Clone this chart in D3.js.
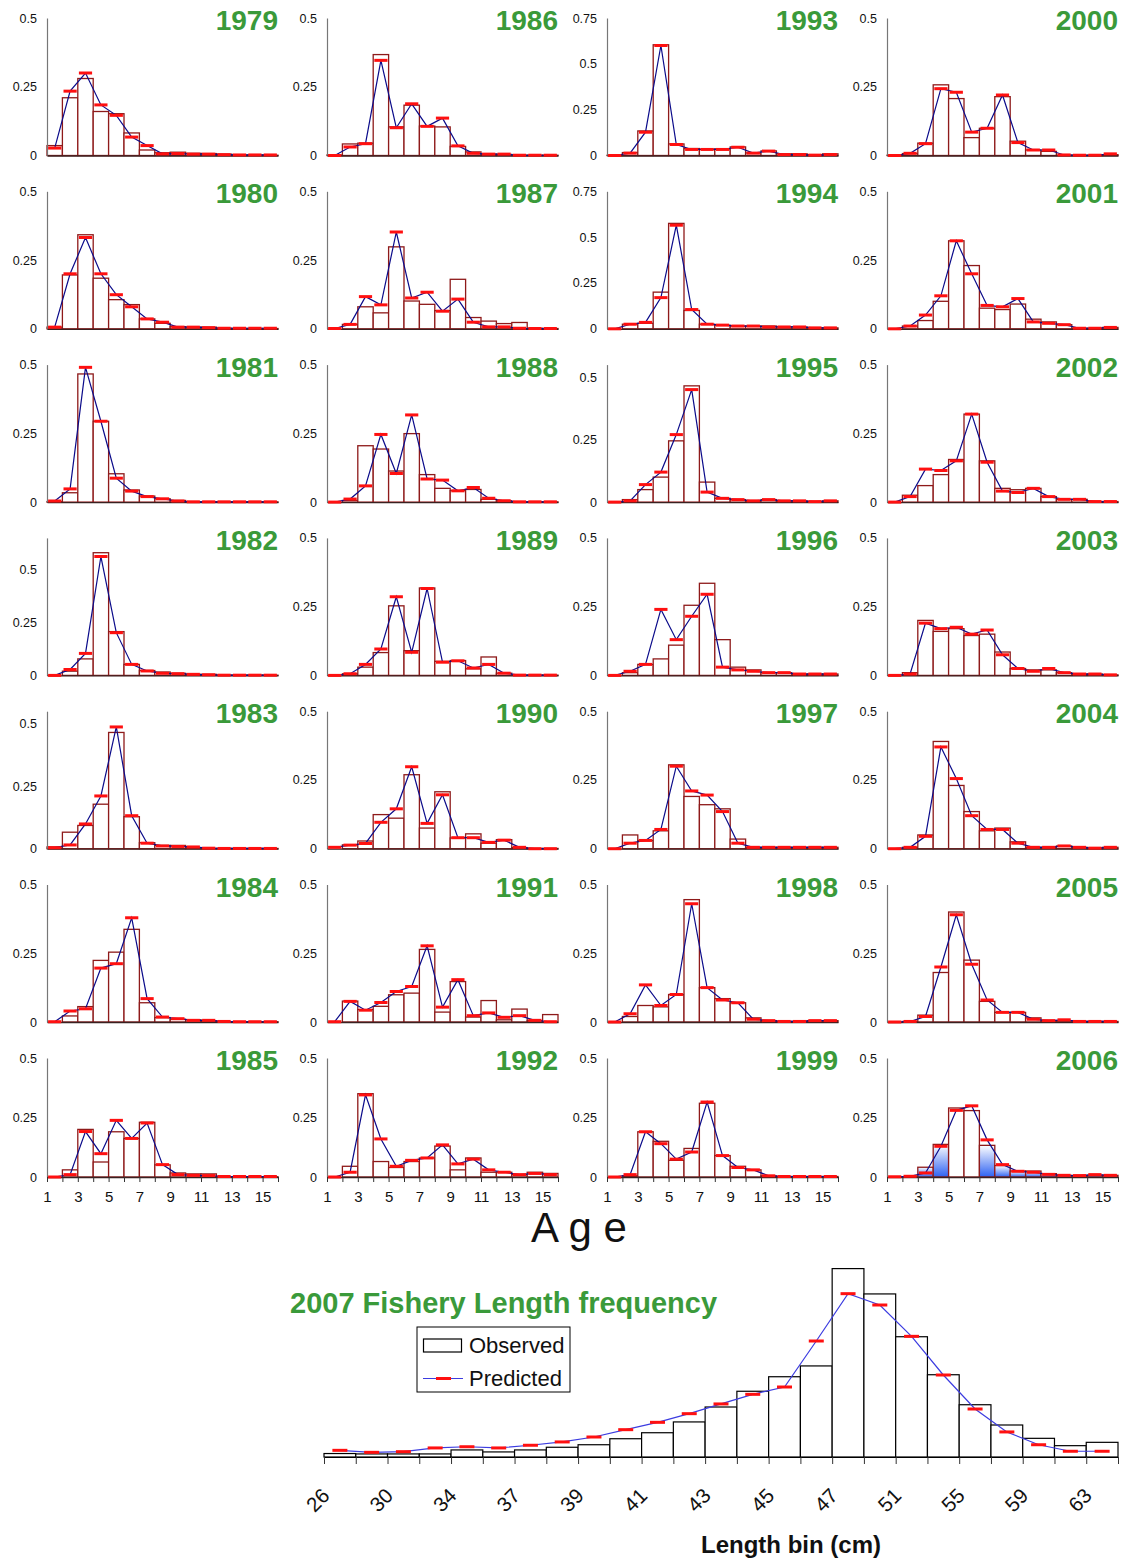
<!DOCTYPE html>
<html><head><meta charset="utf-8">
<script src="https://cdn.jsdelivr.net/npm/d3@7"></script>
<style>
body{margin:0;background:#fff}
svg{display:block}
text{font-family:"Liberation Sans",Arial,sans-serif}
</style>
</head><body>
<svg id="c" width="1124" height="1561"></svg>
<script>
// ---------- DATA ----------
const ages = d3.range(1, 16);
const ageTickLabels = [1, 3, 5, 7, 9, 11, 13, 15];
const years = d3.range(1979, 2007);

const obs1979 = [0.036,0.21,0.28,0.16,0.152,0.082,0.02,0.01,0.012,0.008,0.007,0.005,0.001,0.001,0.001];
const pred1979 = [0.027,0.234,0.30,0.184,0.146,0.067,0.036,0.006,0.007,0.005,0.005,0.003,0.002,0.002,0.002];
const obs1980 = [0.006,0.196,0.342,0.184,0.106,0.088,0.036,0.02,0.008,0.006,0.006,0.002,0.001,0.001,0.001];
const pred1980 = [0.006,0.2,0.332,0.2,0.124,0.08,0.036,0.024,0.006,0.006,0.004,0.002,0.002,0.002,0.002];
const obs1981 = [0.002,0.034,0.466,0.294,0.103,0.044,0.022,0.012,0.006,0.001,0.001,0.001,0.001,0.001,0.001];
const pred1981 = [0.004,0.048,0.49,0.294,0.087,0.04,0.02,0.012,0.004,0.001,0.001,0.001,0.001,0.001,0.001];
const obs1982 = [0,0.02,0.078,0.58,0.207,0.052,0.023,0.016,0.01,0.005,0.005,0.001,0.001,0.001,0.001];
const pred1982 = [0,0.028,0.104,0.562,0.202,0.052,0.021,0.01,0.008,0.005,0.003,0.001,0.001,0.001,0.001];
const obs1983 = [0.007,0.066,0.093,0.178,0.465,0.128,0.024,0.013,0.013,0.004,0.001,0.001,0.001,0.001,0.001];
const pred1983 = [0.004,0.015,0.099,0.211,0.487,0.132,0.022,0.011,0.009,0.007,0.002,0.001,0.001,0.001,0.001];
const obs1984 = [0,0.022,0.056,0.224,0.254,0.337,0.07,0.016,0.01,0.008,0.004,0.001,0.001,0.001,0.001];
const pred1984 = [0.001,0.04,0.048,0.196,0.212,0.379,0.085,0.018,0.012,0.006,0.006,0.002,0.001,0.001,0.001];
const obs1985 = [0,0.03,0.2,0.063,0.19,0.162,0.23,0.051,0.017,0.013,0.013,0.001,0.001,0.001,0.001];
const pred1985 = [0,0.01,0.191,0.098,0.238,0.162,0.227,0.052,0.01,0.007,0.006,0.002,0.002,0.002,0.002];
const obs1986 = [0.002,0.042,0.045,0.367,0.104,0.183,0.107,0.104,0.033,0.013,0.005,0.004,0.001,0.001,0.001];
const pred1986 = [0,0.031,0.043,0.346,0.101,0.188,0.106,0.136,0.035,0.008,0.005,0.005,0.001,0.001,0.001];
const obs1987 = [0,0.016,0.08,0.058,0.298,0.101,0.089,0.066,0.18,0.041,0.028,0.019,0.023,0.002,0.001];
const pred1987 = [0.001,0.016,0.117,0.087,0.352,0.112,0.133,0.064,0.108,0.024,0.007,0.007,0.002,0.001,0.001];
const obs1988 = [0,0.006,0.205,0.193,0.113,0.249,0.1,0.05,0.042,0.046,0.01,0.005,0.001,0.001,0.001];
const pred1988 = [0,0.011,0.059,0.246,0.104,0.317,0.084,0.08,0.041,0.053,0.014,0.005,0.001,0.001,0.001];
const obs1989 = [0,0.006,0.03,0.083,0.253,0.09,0.318,0.051,0.054,0.024,0.067,0.008,0.001,0.001,0.001];
const pred1989 = [0,0.006,0.04,0.096,0.286,0.084,0.316,0.048,0.053,0.027,0.04,0.008,0.001,0.001,0.001];
const obs1990 = [0,0.014,0.028,0.124,0.111,0.269,0.075,0.207,0.039,0.054,0.02,0.033,0.004,0.001,0.001];
const pred1990 = [0.005,0.013,0.019,0.096,0.145,0.298,0.092,0.196,0.04,0.04,0.023,0.031,0.005,0,0];
const obs1991 = [0,0.076,0.045,0.057,0.099,0.105,0.264,0.036,0.147,0.018,0.078,0.008,0.047,0.005,0.027];
const pred1991 = [0.001,0.075,0.043,0.071,0.111,0.129,0.277,0.054,0.154,0.023,0.033,0.017,0.023,0.006,0.001];
const obs1992 = [0,0.045,0.35,0.065,0.04,0.065,0.08,0.13,0.03,0.08,0.02,0.02,0.01,0.02,0.015];
const pred1992 = [0,0.02,0.345,0.16,0.045,0.07,0.08,0.135,0.055,0.075,0.03,0.02,0.01,0.015,0.01];
const obs1993 = [0.001,0.016,0.134,0.604,0.063,0.038,0.034,0.036,0.047,0.014,0.025,0.009,0.009,0.004,0.009];
const pred1993 = [0,0.013,0.127,0.6,0.06,0.033,0.033,0.033,0.045,0.013,0.024,0.005,0.005,0.002,0.005];
const obs1994 = [0,0.025,0.03,0.2,0.575,0.1,0.025,0.02,0.015,0.015,0.015,0.01,0.01,0.005,0.005];
const pred1994 = [0,0.025,0.035,0.17,0.565,0.105,0.025,0.02,0.015,0.015,0.01,0.01,0.01,0.005,0.005];
const obs1995 = [0,0.01,0.05,0.1,0.245,0.465,0.08,0.015,0.01,0.005,0.01,0.005,0.005,0.002,0.005];
const pred1995 = [0,0.005,0.07,0.12,0.27,0.45,0.04,0.015,0.01,0.005,0.01,0.005,0.005,0.002,0.005];
const obs1996 = [0,0.01,0.04,0.06,0.11,0.255,0.335,0.13,0.03,0.02,0.01,0.01,0.005,0.005,0.005];
const pred1996 = [0,0.015,0.04,0.24,0.13,0.215,0.295,0.03,0.02,0.015,0.01,0.01,0.005,0.005,0.005];
const obs1997 = [0,0.05,0.03,0.065,0.305,0.19,0.16,0.145,0.035,0.005,0.005,0.005,0.005,0.005,0.005];
const pred1997 = [0,0.02,0.03,0.07,0.3,0.21,0.195,0.135,0.02,0.005,0.005,0.005,0.005,0.005,0.005];
const obs1998 = [0,0.02,0.06,0.055,0.1,0.445,0.125,0.085,0.07,0.015,0.005,0.002,0.002,0.005,0.005];
const pred1998 = [0,0.03,0.135,0.06,0.1,0.43,0.125,0.08,0.07,0.01,0.005,0.002,0.002,0.005,0.005];
const obs1999 = [0,0.005,0.19,0.15,0.07,0.12,0.31,0.09,0.045,0.03,0.005,0.002,0.002,0.002,0.002];
const pred1999 = [0,0.01,0.19,0.14,0.075,0.105,0.315,0.09,0.04,0.03,0.005,0.002,0.002,0.002,0.002];
const obs2000 = [0.001,0.007,0.045,0.257,0.207,0.065,0.099,0.214,0.052,0.02,0.015,0.001,0.001,0.001,0.003];
const pred2000 = [0,0.008,0.043,0.243,0.23,0.085,0.099,0.22,0.047,0.02,0.02,0.002,0.001,0.001,0.006];
const obs2001 = [0,0.01,0.03,0.1,0.32,0.23,0.075,0.07,0.09,0.035,0.025,0.015,0.002,0.002,0.005];
const pred2001 = [0,0.01,0.05,0.12,0.32,0.2,0.085,0.08,0.11,0.025,0.02,0.015,0.002,0.002,0.005];
const obs2002 = [0,0.025,0.06,0.1,0.155,0.32,0.15,0.05,0.045,0.05,0.02,0.01,0.01,0.002,0.002];
const pred2002 = [0,0.02,0.12,0.115,0.15,0.32,0.145,0.04,0.035,0.05,0.02,0.01,0.01,0.002,0.002];
const obs2003 = [0,0.01,0.2,0.16,0.17,0.145,0.15,0.085,0.025,0.02,0.02,0.01,0.005,0.005,0.002];
const pred2003 = [0,0.005,0.19,0.17,0.175,0.15,0.165,0.075,0.025,0.015,0.025,0.01,0.005,0.005,0.002];
const obs2004 = [0,0.005,0.05,0.39,0.23,0.135,0.065,0.075,0.025,0.005,0.005,0.01,0.005,0.002,0.005];
const pred2004 = [0,0.005,0.045,0.37,0.255,0.12,0.07,0.07,0.02,0.005,0.005,0.01,0.005,0.002,0.005];
const obs2005 = [0,0.002,0.025,0.18,0.4,0.225,0.075,0.035,0.035,0.015,0.005,0.005,0.002,0.002,0.002];
const pred2005 = [0,0.002,0.02,0.2,0.39,0.21,0.08,0.035,0.035,0.01,0.005,0.008,0.002,0.002,0.002];
const obs2006 = [0,0.001,0.041,0.137,0.29,0.279,0.133,0.048,0.025,0.025,0.014,0.007,0.006,0.007,0.007];
const pred2006 = [0.001,0.003,0.017,0.129,0.28,0.299,0.156,0.052,0.024,0.02,0.011,0.007,0.006,0.01,0.007];

// y-axis maxima that differ from the default 0.5
const axisMaxDefault = 0.5;
const axisMaxYears = [1982, 1983, 1993, 1994, 1995];
const axisMaxValues = [0.65, 0.55, 0.75, 0.75, 0.55];
const yTickStep = 0.25;

// 2007 length frequency
const lengthBins = ['26','28','30','32','34','35','37','38','39','40','41','42','43','44','45','46','47','49','51','53','55','57','59','61','63'];
const lengthObs = [0.0026,0.0023,0.0023,0.0023,0.0053,0.0038,0.0053,0.0073,0.0092,0.0137,0.0182,0.0263,0.0375,0.0493,0.0602,0.0683,0.1413,0.1223,0.0902,0.0617,0.0392,0.024,0.014,0.0085,0.011];
const lengthPred = [0.005,0.0035,0.004,0.0068,0.0077,0.0068,0.0088,0.0113,0.015,0.0205,0.026,0.0325,0.0398,0.047,0.0525,0.087,0.1225,0.114,0.0905,0.0615,0.036,0.0188,0.0092,0.0043,0.0043];

// ---------- BUILD TABLES ----------
const obsTable = {1979:obs1979,1980:obs1980,1981:obs1981,1982:obs1982,1983:obs1983,1984:obs1984,1985:obs1985,
  1986:obs1986,1987:obs1987,1988:obs1988,1989:obs1989,1990:obs1990,1991:obs1991,1992:obs1992,
  1993:obs1993,1994:obs1994,1995:obs1995,1996:obs1996,1997:obs1997,1998:obs1998,1999:obs1999,
  2000:obs2000,2001:obs2001,2002:obs2002,2003:obs2003,2004:obs2004,2005:obs2005,2006:obs2006};
const predTable = {1979:pred1979,1980:pred1980,1981:pred1981,1982:pred1982,1983:pred1983,1984:pred1984,1985:pred1985,
  1986:pred1986,1987:pred1987,1988:pred1988,1989:pred1989,1990:pred1990,1991:pred1991,1992:pred1992,
  1993:pred1993,1994:pred1994,1995:pred1995,1996:pred1996,1997:pred1997,1998:pred1998,1999:pred1999,
  2000:pred2000,2001:pred2001,2002:pred2002,2003:pred2003,2004:pred2004,2005:pred2005,2006:pred2006};

// ---------- DRAW ----------
const svg = d3.select('#c');
const GREEN = '#3a9a3a';
const BAR_STROKE = '#8e1a1a';

const defs = svg.append('defs');
const grad = defs.append('linearGradient').attr('id','blueGrad')
  .attr('x1',0).attr('x2',0).attr('y1',0).attr('y2',1);
grad.append('stop').attr('offset','0%').attr('stop-color','#ffffff');
grad.append('stop').attr('offset','100%').attr('stop-color','#2e62f2');

const colX = [47, 327, 607, 887];
const PW = 231;
const rowTops = [18, 191.3, 364.6, 537.9, 711.2, 884.5, 1058];
const rowZeros = [155.5, 328.8, 502.1, 675.4, 848.7, 1022, 1177];

years.forEach((yr, i) => {
  const col = Math.floor(i / 7), row = i % 7;
  const x0 = colX[col];
  const top = rowTops[row], zero = rowZeros[row];
  const mi = axisMaxYears.indexOf(yr);
  const ymax = mi >= 0 ? axisMaxValues[mi] : axisMaxDefault;
  const y = d3.scaleLinear().domain([0, ymax]).range([zero, top]);
  const xb = d3.scaleBand().domain(ages).range([x0, x0 + PW]).padding(0);
  const bw = xb.bandwidth();
  const g = svg.append('g');
  const obs = obsTable[yr], pred = predTable[yr];

  // bars
  g.selectAll('rect.bar').data(ages).join('rect')
    .attr('x', a => xb(a)).attr('width', bw)
    .attr('y', a => y(obs[a-1])).attr('height', a => zero - y(obs[a-1]))
    .attr('fill', a => (yr === 2006 && obs[a-1] < 0.2) ? 'url(#blueGrad)' : '#fff')
    .attr('stroke', BAR_STROKE).attr('stroke-width', 1.3);

  // y axis
  const ticks = d3.range(0, ymax + 1e-9, yTickStep);
  const ya = g.append('g').attr('transform', `translate(${x0},0)`)
    .call(d3.axisLeft(y).tickValues(ticks).tickSize(0).tickPadding(10)
      .tickFormat(d => String(+d.toFixed(2))));
  ya.select('.domain').attr('stroke', '#777').attr('stroke-width', 1.2);
  ya.selectAll('text').attr('font-size', 12.5).attr('fill', '#111')
    .attr('font-family', '"Liberation Sans",Arial,sans-serif');

  // x axis
  const xl = d3.scaleLinear().domain([1, 16]).range([x0, x0 + PW]);
  const last = row === 6;
  const xa = g.append('g').attr('transform', `translate(0,${zero})`)
    .call(d3.axisBottom(xl).tickValues(d3.range(1, 17)).tickSize(last ? 5 : 0).tickSizeOuter(0)
      .tickPadding(9.5)
      .tickFormat(d => (last && ageTickLabels.includes(d)) ? String(d) : ''));
  xa.select('.domain').attr('stroke', '#3a2020').attr('stroke-width', 1.3);
  xa.selectAll('.tick line').attr('stroke', '#333');
  xa.selectAll('text').attr('font-size', 15).attr('fill', '#111')
    .attr('font-family', '"Liberation Sans",Arial,sans-serif');

  // predicted line
  g.append('path').datum(ages)
    .attr('d', d3.line().x(a => xb(a) + bw/2).y(a => y(pred[a-1])))
    .attr('fill', 'none').attr('stroke', '#0b0b8a').attr('stroke-width', 1.2);

  // predicted markers
  g.selectAll('line.pm').data(ages).join('line')
    .attr('x1', a => xb(a) + bw/2 - 6.6).attr('x2', a => xb(a) + bw/2 + 6.6)
    .attr('y1', a => y(pred[a-1])).attr('y2', a => y(pred[a-1]))
    .attr('stroke', '#ff1010').attr('stroke-width', 3);

  // year label
  g.append('text').attr('x', x0 + PW).attr('y', top + 12)
    .attr('text-anchor', 'end').attr('font-size', 28).attr('font-weight', 'bold')
    .attr('fill', GREEN).text(yr);
});

// Age label
svg.append('text').attr('x', 579).attr('y', 1242).attr('text-anchor', 'middle')
  .attr('font-size', 42).attr('fill', '#111').text('A g e');

// ---------- 2007 length frequency ----------
const xL = d3.scaleBand().domain(lengthBins).range([324, 1118]).padding(0);
const yL = d3.scaleLinear().domain([0, 0.15]).range([1457, 1257]);
const bwL = xL.bandwidth();
const gL = svg.append('g');

gL.selectAll('rect').data(lengthBins).join('rect')
  .attr('x', d => xL(d)).attr('width', bwL)
  .attr('y', (d, i) => yL(lengthObs[i])).attr('height', (d, i) => 1457 - yL(lengthObs[i]))
  .attr('fill', '#fff').attr('stroke', '#000').attr('stroke-width', 1.2);

const xLin = d3.scaleLinear().domain([0, lengthBins.length]).range([324, 1118]);
const xaL = gL.append('g').attr('transform', 'translate(0,1457)')
  .call(d3.axisBottom(xLin).tickValues(d3.range(0, lengthBins.length + 1)).tickSize(7).tickSizeOuter(0).tickFormat(''));
xaL.select('.domain').attr('stroke', '#000').attr('stroke-width', 1.2);
xaL.selectAll('.tick line').attr('stroke', '#333');

gL.selectAll('text.lb').data(lengthBins.filter((d, i) => i % 2 === 0)).join('text')
  .attr('class', 'lb')
  .attr('transform', d => `translate(${xL(d) + bwL/2 - 9},1497) rotate(-45)`)
  .attr('text-anchor', 'end').attr('font-size', 20.5).attr('fill', '#111').text(d => d);

gL.append('path').datum(lengthBins)
  .attr('d', d3.line().x(d => xL(d) + bwL/2).y((d, i) => yL(lengthPred[i])))
  .attr('fill', 'none').attr('stroke', '#3c3ce0').attr('stroke-width', 1.2);
gL.selectAll('line.pm').data(lengthBins).join('line')
  .attr('x1', d => xL(d) + bwL/2 - 7.5).attr('x2', d => xL(d) + bwL/2 + 7.5)
  .attr('y1', (d, i) => yL(lengthPred[i])).attr('y2', (d, i) => yL(lengthPred[i]))
  .attr('stroke', '#ff1010').attr('stroke-width', 3);

// title
svg.append('text').attr('x', 290).attr('y', 1313).attr('font-size', 29).attr('font-weight', 'bold')
  .attr('fill', GREEN).text('2007 Fishery Length frequency');

// legend
const lg = svg.append('g');
lg.append('rect').attr('x', 417).attr('y', 1327).attr('width', 153).attr('height', 65)
  .attr('fill', '#fff').attr('stroke', '#000').attr('stroke-width', 1);
lg.append('rect').attr('x', 423.5).attr('y', 1339).attr('width', 38).attr('height', 13)
  .attr('fill', '#fff').attr('stroke', '#000').attr('stroke-width', 1.2);
lg.append('text').attr('x', 469).attr('y', 1353).attr('font-size', 22).attr('fill', '#111').text('Observed');
lg.append('line').attr('x1', 423).attr('x2', 463).attr('y1', 1378.5).attr('y2', 1378.5)
  .attr('stroke', '#3c3ce0').attr('stroke-width', 1.2);
lg.append('line').attr('x1', 436).attr('x2', 451).attr('y1', 1378.5).attr('y2', 1378.5)
  .attr('stroke', '#ff1010').attr('stroke-width', 3);
lg.append('text').attr('x', 469).attr('y', 1386).attr('font-size', 22).attr('fill', '#111').text('Predicted');

// x-axis title
svg.append('text').attr('x', 791).attr('y', 1553).attr('text-anchor', 'middle')
  .attr('font-size', 24).attr('font-weight', 'bold').attr('fill', '#111').text('Length bin (cm)');
</script>
</body></html>
